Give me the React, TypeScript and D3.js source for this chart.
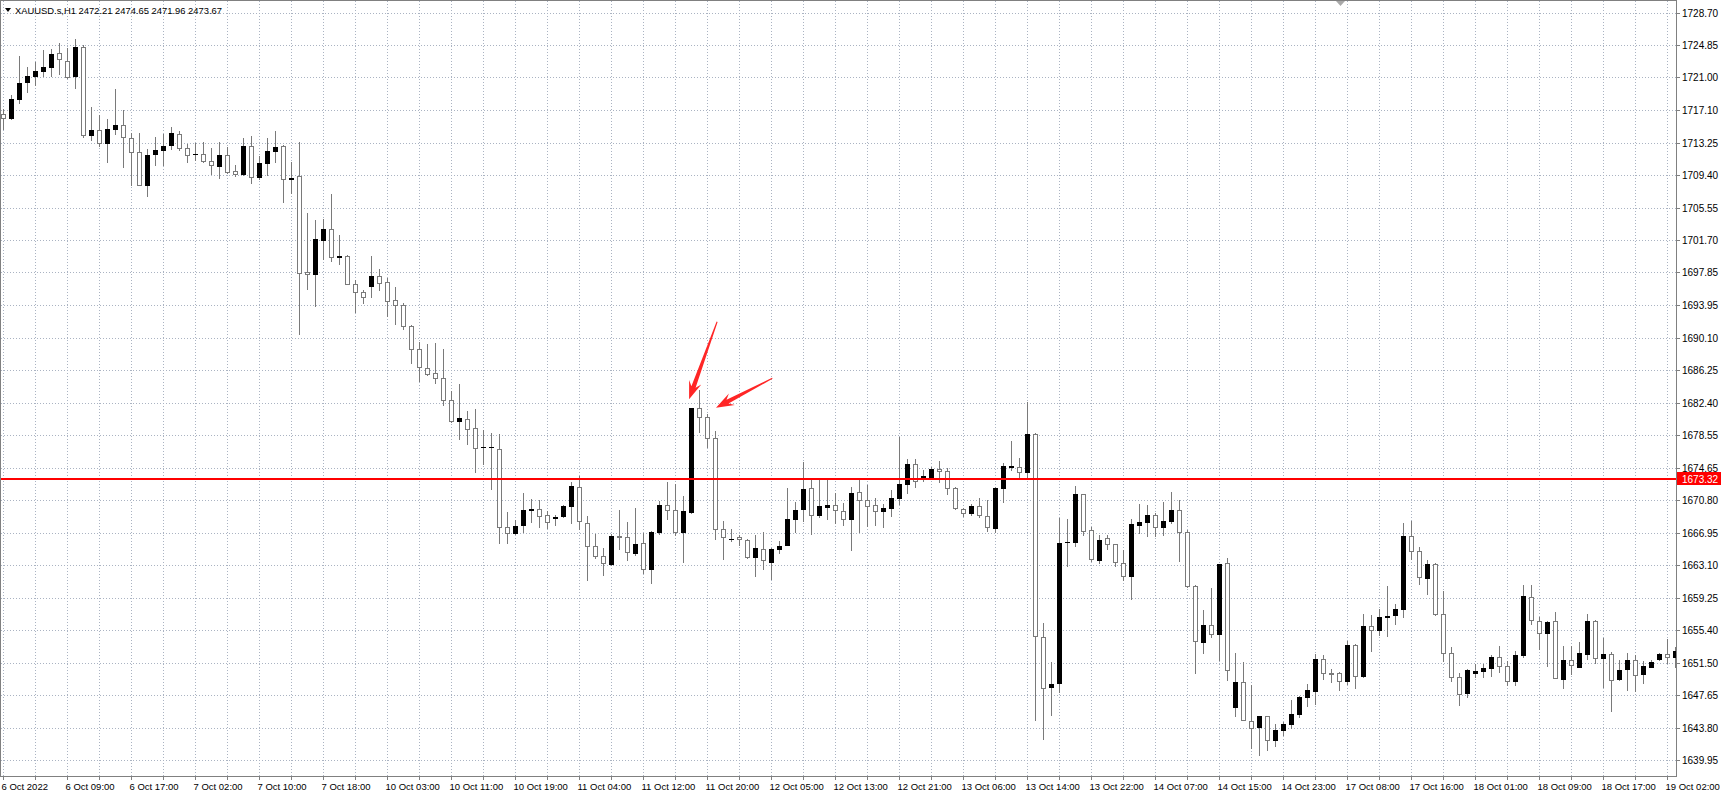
import React, { useEffect } from 'react';
import * as d3 from 'd3';

const W = 1721;
const H = 793;

const opens = [
  1716.69, 1716.18, 1718.42, 1720.43, 1721.14, 1721.77, 1722.25, 1723.90, 1723.00, 1721.18,
  1724.57, 1714.16, 1714.76, 1713.18, 1714.91, 1715.35, 1713.81, 1712.15, 1708.25, 1711.88,
  1712.35, 1712.94, 1714.28, 1712.67, 1711.96, 1711.92, 1711.09, 1710.52, 1711.78, 1709.84,
  1709.53, 1712.85, 1709.13, 1710.79, 1712.26, 1712.85, 1708.89, 1709.29, 1697.96, 1697.72,
  1701.76, 1703.07, 1699.66, 1699.86, 1696.53, 1695.54, 1696.21, 1697.40, 1696.73, 1694.63,
  1694.03, 1691.54, 1688.81, 1686.55, 1685.94, 1685.35, 1682.74, 1680.24, 1680.48, 1679.41,
  1677.16, 1677.16, 1676.92, 1667.61, 1666.98, 1667.85, 1669.63, 1669.79, 1669.08, 1668.68,
  1668.92, 1670.19, 1672.40, 1668.13, 1665.36, 1664.17, 1663.26, 1666.54, 1666.47, 1664.57,
  1665.77, 1662.68, 1667.03, 1670.20, 1669.64, 1667.03, 1669.45, 1681.71, 1680.72, 1678.23,
  1667.35, 1666.24, 1666.40, 1666.04, 1664.07, 1665.06, 1663.51, 1664.98, 1665.53, 1668.62,
  1669.72, 1672.30, 1669.01, 1670.04, 1670.28, 1669.57, 1668.55, 1671.76, 1670.85, 1670.21,
  1669.50, 1669.86, 1671.04, 1672.71, 1675.12, 1673.46, 1673.62, 1674.53, 1674.29, 1672.23,
  1669.78, 1669.34, 1670.17, 1668.99, 1667.56, 1672.31, 1674.82, 1674.80, 1674.21, 1678.64,
  1654.55, 1648.61, 1649.09, 1665.89, 1665.81, 1671.55, 1667.24, 1663.76, 1666.33, 1665.62,
  1663.36, 1661.78, 1667.91, 1668.23, 1669.02, 1667.60, 1668.39, 1669.61, 1667.04, 1660.67,
  1653.99, 1656.00, 1654.93, 1663.36, 1646.23, 1649.24, 1644.57, 1643.90, 1645.16, 1642.39,
  1643.60, 1644.30, 1645.47, 1647.52, 1648.12, 1651.99, 1650.29, 1650.33, 1649.42, 1653.58,
  1649.94, 1655.87, 1655.36, 1656.98, 1657.14, 1657.85, 1666.63, 1664.85, 1661.61, 1663.27,
  1657.34, 1652.67, 1649.82, 1647.92, 1650.29, 1650.53, 1650.89, 1652.19, 1651.20, 1649.42,
  1652.47, 1659.31, 1656.54, 1655.08, 1656.43, 1649.62, 1651.88, 1651.01, 1652.59, 1656.43,
  1652.11, 1652.59, 1649.62, 1650.73, 1651.80, 1650.14, 1651.08, 1651.92, 1652.59, 1652.27,
];

const highs = [
  1717.30, 1718.90, 1723.55, 1722.29, 1722.88, 1724.26, 1724.34, 1725.05, 1724.46, 1725.52,
  1724.85, 1717.48, 1716.57, 1716.06, 1719.61, 1717.08, 1714.40, 1714.40, 1712.55, 1713.93,
  1714.32, 1715.15, 1714.68, 1713.10, 1713.22, 1713.34, 1712.67, 1713.37, 1712.70, 1710.60,
  1713.77, 1714.05, 1711.67, 1713.77, 1714.68, 1712.95, 1710.99, 1713.30, 1704.93, 1704.06,
  1704.14, 1707.15, 1702.35, 1699.90, 1697.01, 1695.82, 1699.82, 1698.23, 1697.24, 1696.14,
  1694.27, 1691.66, 1689.60, 1689.40, 1689.43, 1688.71, 1683.73, 1684.56, 1681.39, 1681.59,
  1679.21, 1678.74, 1678.62, 1669.39, 1668.52, 1671.69, 1670.98, 1670.90, 1669.51, 1669.12,
  1670.31, 1672.96, 1673.67, 1668.92, 1666.82, 1665.16, 1666.86, 1669.71, 1668.21, 1669.91,
  1666.95, 1667.15, 1670.71, 1672.97, 1672.77, 1671.31, 1681.75, 1683.85, 1681.04, 1679.02,
  1668.34, 1667.43, 1666.72, 1666.16, 1666.68, 1667.03, 1665.18, 1665.97, 1672.30, 1670.63,
  1675.34, 1673.29, 1673.29, 1673.17, 1671.70, 1670.52, 1672.43, 1673.30, 1672.63, 1671.04,
  1670.37, 1672.03, 1678.29, 1675.71, 1675.67, 1674.41, 1674.72, 1675.48, 1674.69, 1672.43,
  1669.86, 1670.33, 1671.12, 1670.85, 1672.43, 1675.20, 1677.89, 1675.87, 1682.44, 1678.84,
  1656.21, 1651.66, 1668.67, 1668.58, 1672.54, 1671.60, 1667.63, 1666.65, 1666.65, 1665.65,
  1664.94, 1668.58, 1670.36, 1670.29, 1669.30, 1670.60, 1671.79, 1670.88, 1667.24, 1660.70,
  1657.82, 1660.39, 1663.30, 1663.96, 1652.68, 1651.57, 1648.92, 1645.20, 1645.20, 1644.30,
  1644.50, 1647.13, 1647.64, 1648.95, 1652.59, 1652.47, 1650.81, 1650.40, 1654.09, 1653.77,
  1657.34, 1657.14, 1657.93, 1660.58, 1658.52, 1668.14, 1668.33, 1665.25, 1663.67, 1663.35,
  1660.03, 1653.38, 1650.29, 1650.81, 1651.40, 1651.40, 1652.39, 1653.46, 1651.72, 1652.98,
  1660.70, 1660.78, 1656.94, 1656.47, 1657.53, 1653.46, 1653.46, 1653.97, 1657.34, 1656.66,
  1654.49, 1652.79, 1651.88, 1652.67, 1652.39, 1651.72, 1651.88, 1652.67, 1654.37, 1653.38,
];

const lows = [
  1714.90, 1716.06, 1717.95, 1719.25, 1720.12, 1721.18, 1721.18, 1721.38, 1720.98, 1719.72,
  1713.93, 1713.53, 1712.82, 1710.93, 1714.24, 1710.34, 1708.21, 1708.20, 1706.95, 1710.65,
  1710.58, 1712.55, 1712.43, 1710.93, 1711.25, 1710.93, 1709.59, 1709.01, 1709.60, 1709.29,
  1709.45, 1708.42, 1708.89, 1709.41, 1710.99, 1706.24, 1707.23, 1690.59, 1695.94, 1693.84,
  1699.50, 1699.22, 1698.91, 1696.50, 1693.16, 1694.27, 1694.95, 1695.82, 1692.69, 1691.78,
  1691.18, 1687.10, 1684.96, 1685.70, 1684.76, 1682.10, 1680.12, 1678.07, 1677.51, 1674.15,
  1675.06, 1672.17, 1665.75, 1665.75, 1666.86, 1667.02, 1668.21, 1667.65, 1667.49, 1667.93,
  1668.84, 1668.13, 1667.42, 1661.40, 1663.97, 1661.91, 1663.18, 1665.04, 1663.77, 1664.33,
  1662.21, 1661.02, 1666.76, 1668.54, 1666.64, 1663.47, 1669.33, 1678.90, 1677.16, 1666.24,
  1663.79, 1665.97, 1665.45, 1663.99, 1661.81, 1662.60, 1661.49, 1664.58, 1665.45, 1667.03,
  1668.34, 1666.76, 1668.85, 1668.54, 1668.14, 1667.82, 1664.91, 1667.09, 1667.76, 1667.88,
  1667.68, 1668.99, 1670.37, 1671.64, 1672.43, 1673.14, 1673.54, 1672.94, 1671.52, 1669.74,
  1668.95, 1669.07, 1668.87, 1667.21, 1667.01, 1670.65, 1674.41, 1673.42, 1673.62, 1644.73,
  1642.44, 1645.33, 1648.10, 1662.97, 1665.42, 1666.65, 1663.56, 1663.36, 1665.02, 1662.97,
  1661.38, 1659.09, 1666.92, 1666.61, 1666.53, 1666.72, 1668.11, 1663.64, 1660.51, 1650.31,
  1652.68, 1654.54, 1651.89, 1649.51, 1645.16, 1644.70, 1641.40, 1640.61, 1641.21, 1641.60,
  1642.90, 1643.80, 1645.07, 1646.34, 1646.65, 1649.62, 1649.22, 1648.31, 1649.03, 1648.55,
  1649.82, 1652.90, 1654.88, 1654.76, 1656.07, 1656.94, 1663.86, 1660.90, 1659.71, 1657.14,
  1651.72, 1649.42, 1646.57, 1647.52, 1649.82, 1649.82, 1649.90, 1650.41, 1648.83, 1648.83,
  1652.27, 1656.15, 1653.18, 1651.20, 1649.70, 1648.51, 1650.14, 1651.00, 1651.99, 1651.48,
  1648.63, 1645.78, 1649.50, 1648.31, 1648.12, 1649.11, 1651.01, 1651.80, 1651.52, 1651.01,
];

const closes = [
  1716.18, 1718.46, 1720.32, 1721.22, 1721.81, 1722.25, 1723.82, 1723.19, 1721.00, 1724.57,
  1714.16, 1714.79, 1713.22, 1714.87, 1715.35, 1713.93, 1712.15, 1708.25, 1711.84, 1712.35,
  1712.90, 1714.36, 1712.59, 1711.84, 1711.94, 1711.05, 1710.62, 1711.78, 1709.80, 1709.49,
  1712.89, 1709.13, 1710.87, 1712.26, 1712.77, 1708.89, 1709.05, 1697.84, 1697.72, 1701.84,
  1703.03, 1699.70, 1699.86, 1696.53, 1695.54, 1694.95, 1697.40, 1696.65, 1694.51, 1694.00,
  1691.54, 1688.81, 1686.63, 1685.83, 1685.35, 1682.74, 1680.24, 1680.52, 1679.29, 1677.04,
  1677.12, 1677.12, 1667.65, 1666.98, 1667.81, 1669.63, 1669.75, 1669.00, 1668.25, 1668.88,
  1670.19, 1672.48, 1668.33, 1665.36, 1664.17, 1663.38, 1666.54, 1666.50, 1664.68, 1665.67,
  1662.68, 1667.03, 1670.24, 1669.68, 1667.03, 1669.53, 1681.71, 1680.72, 1678.23, 1667.35,
  1666.48, 1666.20, 1666.16, 1664.07, 1665.10, 1663.67, 1665.06, 1665.37, 1668.62, 1669.64,
  1672.18, 1669.01, 1670.12, 1670.20, 1669.64, 1668.62, 1671.64, 1670.85, 1670.13, 1669.50,
  1669.86, 1671.04, 1672.71, 1675.12, 1673.10, 1673.66, 1674.57, 1674.25, 1672.23, 1669.86,
  1669.26, 1670.17, 1669.03, 1667.60, 1672.23, 1674.88, 1674.85, 1674.13, 1678.72, 1654.70,
  1648.49, 1649.01, 1665.72, 1665.81, 1671.55, 1667.12, 1663.88, 1666.05, 1665.66, 1663.48,
  1661.78, 1667.99, 1668.23, 1669.10, 1667.63, 1668.39, 1669.61, 1667.04, 1660.59, 1654.06,
  1655.96, 1654.93, 1663.24, 1650.62, 1649.24, 1644.77, 1643.78, 1645.16, 1642.39, 1643.60,
  1644.30, 1645.47, 1647.45, 1648.31, 1651.99, 1650.33, 1650.25, 1649.42, 1653.58, 1649.94,
  1655.87, 1655.36, 1656.94, 1657.06, 1657.93, 1666.55, 1664.85, 1661.69, 1663.27, 1657.26,
  1652.67, 1649.82, 1647.84, 1650.69, 1650.53, 1650.89, 1652.19, 1651.12, 1649.42, 1652.47,
  1659.43, 1656.62, 1655.08, 1656.35, 1649.74, 1651.80, 1651.32, 1652.71, 1656.43, 1652.11,
  1652.51, 1649.50, 1650.69, 1651.80, 1650.10, 1651.20, 1651.60, 1652.59, 1652.27, 1652.98,
];

// one label every 8 bars, starting at bar 0
const timeLabels = [
  '6 Oct 2022', '6 Oct 09:00', '6 Oct 17:00', '7 Oct 02:00', '7 Oct 10:00', '7 Oct 18:00',
  '10 Oct 03:00', '10 Oct 11:00', '10 Oct 19:00', '11 Oct 04:00', '11 Oct 12:00', '11 Oct 20:00',
  '12 Oct 05:00', '12 Oct 13:00', '12 Oct 21:00', '13 Oct 06:00', '13 Oct 14:00', '13 Oct 22:00',
  '14 Oct 07:00', '14 Oct 15:00', '14 Oct 23:00', '17 Oct 08:00', '17 Oct 16:00', '18 Oct 01:00',
  '18 Oct 09:00', '18 Oct 17:00', '19 Oct 02:00',
];

const priceLabels = [
  '1728.70', '1724.85', '1721.00', '1717.10', '1713.25', '1709.40', '1705.55', '1701.70',
  '1697.85', '1693.95', '1690.10', '1686.25', '1682.40', '1678.55', '1674.65', '1670.80',
  '1666.95', '1663.10', '1659.25', '1655.40', '1651.50', '1647.65', '1643.80', '1639.95',
];

const linePrice = 1673.32;
const headerText = 'XAUUSD.s,H1  2472.21 2474.65 2471.96 2473.67';

// annotation arrows: [barIndex, price] tail -> tip
const arrows = [
  { from: [89.2, 1692.0], to: [85.7, 1682.8] },
  { from: [96.1, 1685.3], to: [89.06, 1681.8] },
];

const FONT = '"Liberation Sans", Arial, sans-serif';

export default function App() {
  useEffect(() => {
    document.body.style.margin = '0';
    document.body.style.overflow = 'hidden';
  }, []);

  const plotRight = 1676;
  const plotBottom = 776;
  const barsPerLabel = 8;
  const barsPerGrid = 4;

  const x = d3.scaleLinear().domain([0, 1]).range([3.5, 11.5]);
  const y = d3.scaleLinear().domain([1724.85, 1639.95]).range([45, 760.3]);

  const n = opens.length;
  const gridBars = d3.range(0, n, barsPerGrid);

  const gridColor = '#aab3c2';
  const wickColor = '#7a7a7a';

  const candles = d3.range(n).map((i) => {
    const o = opens[i], c = closes[i], h = highs[i], l = lows[i];
    const cx = x(i);
    const top = Math.round(y(Math.max(o, c)));
    const bot = Math.round(y(Math.min(o, c)));
    const bull = c > o;
    const yh = Math.round(y(h));
    const yl = Math.round(y(l));
    let body;
    if (bot - top < 1) {
      body = <line x1={cx - 2.5} x2={cx + 2.5} y1={top + 0.5} y2={top + 0.5} stroke="#000" strokeWidth={1} />;
    } else if (bull) {
      body = <rect x={cx - 2.5} y={top} width={5} height={bot - top + 1} fill="#000" />;
    } else {
      body = <rect x={cx - 2} y={top + 0.5} width={4} height={bot - top} fill="#fff" stroke={wickColor} strokeWidth={1} />;
    }
    return (
      <g key={i}>
        <line x1={cx} x2={cx} y1={yh} y2={yl + 1} stroke={wickColor} strokeWidth={1} />
        {body}
      </g>
    );
  });

  const arrowPath = (a: { from: number[]; to: number[] }) => {
    const x1 = x(a.from[0]), y1 = y(a.from[1]);
    const x2 = x(a.to[0]), y2 = y(a.to[1]);
    const dx = x2 - x1, dy = y2 - y1;
    const L = Math.hypot(dx, dy);
    const ux = dx / L, uy = dy / L;
    const nx = -uy, ny = ux;
    const pt = (t: number, w: number) => [x1 + ux * t + nx * w, y1 + uy * t + ny * w];
    const pts = [
      pt(0, 0.5), pt(L - 13, 2.2), pt(L - 18, 6.5), pt(L, 0), pt(L - 18, -6.5), pt(L - 13, -2.2), pt(0, -0.5),
    ];
    return 'M' + pts.map((p) => p[0].toFixed(1) + ',' + p[1].toFixed(1)).join('L') + 'Z';
  };

  const ry = Math.round(y(linePrice));

  return (
    <div style={{ position: 'absolute', left: 0, top: 0, width: W, height: H, background: '#fff' }}>
      <svg width={W} height={H} style={{ display: 'block' }} fontFamily={FONT}>
        <rect x={0} y={0} width={W} height={H} fill="#fff" />
        <defs>
          <clipPath id="plotClip">
            <rect x={1} y={1} width={plotRight - 1} height={plotBottom - 1} />
          </clipPath>
        </defs>

        {/* grid */}
        <g>
          {priceLabels.map((p) => {
            const yy = Math.round(y(+p)) + 0.5;
            return <line key={'h' + p} x1={1} x2={plotRight} y1={yy} y2={yy} stroke={gridColor} strokeDasharray="1 2" />;
          })}
          {gridBars.map((i) => {
            const xx = Math.floor(x(i)) + 0.5;
            return <line key={'v' + i} x1={xx} x2={xx} y1={1} y2={plotBottom} stroke={gridColor} strokeDasharray="1 2" />;
          })}
        </g>

        {/* candles */}
        <g clipPath="url(#plotClip)">{candles}</g>

        {/* horizontal line */}
        <rect x={1} y={ry - 1} width={plotRight - 1} height={2} fill="#ff0000" />

        {/* arrows */}
        <g>
          {arrows.map((a, k) => (
            <path key={k} d={arrowPath(a)} fill="#ff2626" />
          ))}
        </g>

        {/* frame */}
        <rect x={0.5} y={0.5} width={plotRight} height={plotBottom} fill="none" stroke="#808080" />
        <polygon points="1336,1 1345,1 1340.5,6" fill="#a9a9a9" />

        {/* price axis */}
        <g fontSize={10} fill="#000">
          {priceLabels.map((p) => {
            const yy = Math.round(y(+p)) + 0.5;
            return (
              <g key={'p' + p}>
                <line x1={plotRight + 0.5} x2={plotRight + 4} y1={yy} y2={yy} stroke="#808080" />
                <text x={plotRight + 6} y={yy + 3.5}>{p}</text>
              </g>
            );
          })}
          <rect x={plotRight + 1} y={ry - 7} width={W - plotRight - 1} height={13} fill="#ff0000" />
          <text x={plotRight + 6} y={ry + 3.5} fill="#fff">{linePrice.toFixed(2)}</text>
        </g>

        {/* time axis */}
        <g fontSize={9.5} fill="#000">
          {gridBars.map((i) => {
            const xx = Math.floor(x(i)) + 0.5;
            return <line key={'t' + i} x1={xx} x2={xx} y1={plotBottom} y2={plotBottom + 4} stroke="#808080" />;
          })}
          {timeLabels.map((t, k) => (
            <text key={t} x={x(k * barsPerLabel) - 2} y={790}>{t}</text>
          ))}
        </g>

        {/* header */}
        <polygon points="5,8 11,8 8,12" fill="#000" />
        <text x={15} y={14} fontSize={9.4} fill="#000">{headerText}</text>
      </svg>
    </div>
  );
}
